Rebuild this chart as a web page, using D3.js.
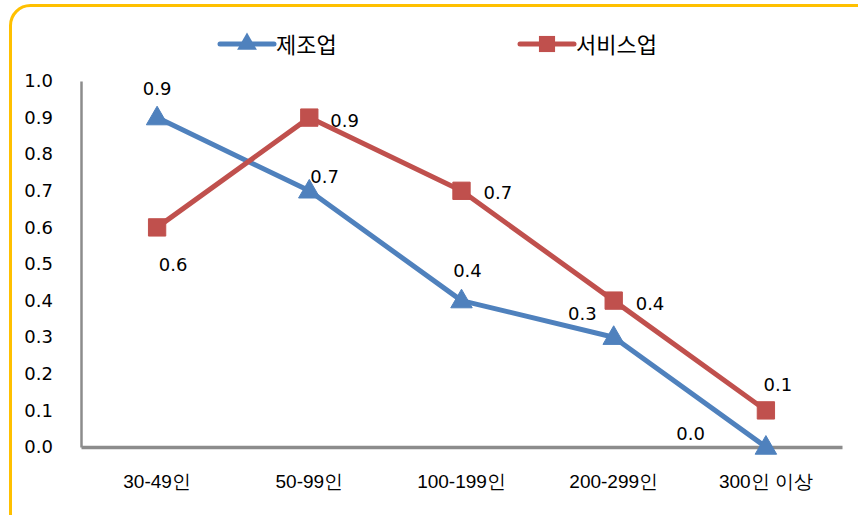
<!DOCTYPE html>
<html>
<head>
<meta charset="utf-8">
<script src="https://cdn.jsdelivr.net/npm/d3@7"></script>
<style>
  html, body { margin: 0; padding: 0; background: #fff; }
  svg { display: block; font-family: "DejaVu Sans", "Noto Sans CJK KR", sans-serif; }
</style>
</head>
<body>
<svg id="chart" width="858" height="515"></svg>
<script>
// Categories (firm size) and series values
const categories = ["30-49인", "50-99인", "100-199인", "200-299인", "300인 이상"];
const manufacturing = [0.9, 0.7, 0.4, 0.3, 0.0];
const services = [0.6, 0.9, 0.7, 0.4, 0.1];
const yTicks = [0, 0.1, 0.2, 0.3, 0.4, 0.5, 0.6, 0.7, 0.8, 0.9, 1.0];

// value-label offsets from each marker: [dx, dy, anchor]
const manuLabelOffsets = [[0, -23, "middle"], [1, -8, "start"], [6, -24, "middle"], [-17, -17, "end"], [-61, -7, "end"]];
const servLabelOffsets = [[16, 44, "middle"], [21, 9, "start"], [22, 8, "start"], [22, 9, "start"], [12, -19, "middle"]];

const svg = d3.select("#chart");

// rounded frame
svg.append("rect")
  .attr("x", 10.5).attr("y", 5.5)
  .attr("width", 880).attr("height", 540)
  .attr("rx", 20).attr("ry", 20)
  .attr("fill", "#fff")
  .attr("stroke", "#FFC000").attr("stroke-width", 3);

const plot = { left: 81, right: 842, top: 81, bottom: 447 };

const x = d3.scaleBand().domain(categories).range([plot.left, plot.right]);
const y = d3.scaleLinear().domain([0, 1]).range([plot.bottom, plot.top]);

// y axis
const yAxis = svg.append("g")
  .attr("transform", `translate(${plot.left},0)`)
  .call(d3.axisLeft(y).tickValues(yTicks).tickFormat(d3.format(".1f")).tickSize(0).tickPadding(28));
yAxis.select(".domain").attr("stroke", "#8c8c8c").attr("stroke-width", 2.5);
yAxis.selectAll("text").attr("font-size", 18).attr("font-family", "DejaVu Sans").attr("fill", "#000");

// x axis
const xAxis = svg.append("g")
  .attr("transform", `translate(0,${plot.bottom})`)
  .call(d3.axisBottom(x).tickSize(0).tickPadding(28));
xAxis.select(".domain").attr("stroke", "#8c8c8c").attr("stroke-width", 3.5);
xAxis.selectAll("text").attr("font-size", 19).attr("fill", "#000");

const cx = (c) => x(c) + x.bandwidth() / 2;
const line = d3.line().x((d, i) => cx(categories[i])).y(d => y(d));

const blue = "#4F81BD", red = "#C0504D";

function drawSeries(values, color, marker, offsets) {
  svg.append("path")
    .datum(values)
    .attr("d", line)
    .attr("fill", "none")
    .attr("stroke", color)
    .attr("stroke-width", 5)
    .attr("stroke-linejoin", "round");

  const sym = d3.symbol().type(marker === "square" ? d3.symbolSquare : d3.symbolTriangle)
    .size(marker === "square" ? 300 : 200);
  svg.selectAll(null).data(values).enter().append("path")
    .attr("d", sym)
    .attr("transform", (d, i) => `translate(${cx(categories[i])},${y(d) + (marker === "square" ? 0 : 1)})`)
    .attr("fill", color)
    .attr("stroke", color)
    .attr("stroke-width", 1);

  svg.selectAll(null).data(values).enter().append("text")
    .attr("x", (d, i) => cx(categories[i]) + offsets[i][0])
    .attr("y", (d, i) => y(d) + offsets[i][1])
    .attr("text-anchor", (d, i) => offsets[i][2])
    .attr("font-size", 18)
    .attr("fill", "#000")
    .text(d => d3.format(".1f")(d));
}

drawSeries(manufacturing, blue, "triangle", manuLabelOffsets);
drawSeries(services, red, "square", servLabelOffsets);

// legend
const legend = [
  { name: "제조업", color: blue, marker: "triangle", x: 220 },
  { name: "서비스업", color: red, marker: "square", x: 520 }
];
const lg = svg.append("g");
legend.forEach(l => {
  const g = lg.append("g").attr("transform", `translate(${l.x},44)`);
  g.append("line").attr("x1", 0).attr("x2", 54).attr("y1", 0).attr("y2", 0)
    .attr("stroke", l.color).attr("stroke-width", 5).attr("stroke-linecap", "round");
  g.append("path")
    .attr("d", d3.symbol().type(l.marker === "square" ? d3.symbolSquare : d3.symbolTriangle)
      .size(l.marker === "square" ? 260 : 170))
    .attr("transform", "translate(27,0)")
    .attr("fill", l.color);
  g.append("text").attr("x", 56).attr("y", 9).attr("font-size", 22)
    .attr("font-family", "Noto Sans CJK KR").attr("fill", "#000").text(l.name);
});
</script>
</body>
</html>
